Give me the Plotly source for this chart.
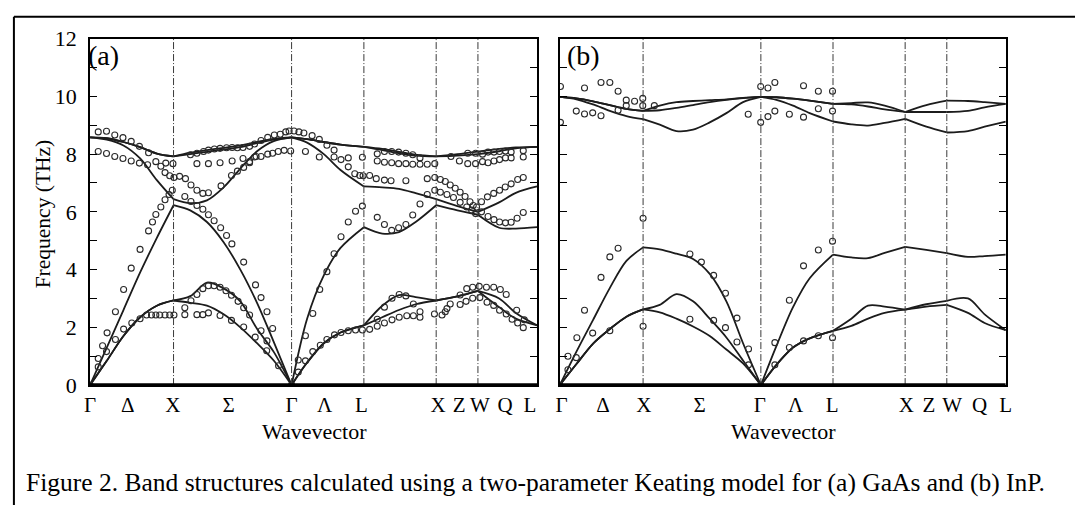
import plotly.graph_objects as go

# ---------------------------------------------------------------------------
# Path through the Brillouin zone, distances in units of 2*pi/a
# Gamma - X - (Sigma) - Gamma - L - X - W - L
# ---------------------------------------------------------------------------
K_NODES = [0.0, 1.0, 2.414, 3.280, 4.146, 4.646, 5.354]
K_END = 5.354

# sample positions used for the calculated dispersion curves
# (None separates the straight segments of the path)
K_GRID = [0, 0.2, 0.4, 0.6, 0.8, 1.0, None,
          1.0, 1.2, 1.4, 1.6, 1.8, 2.0, 2.2, 2.414, None,
          2.414, 2.6, 2.8, 3.0, 3.28, None,
          3.28, 3.5, 3.7, 3.9, 4.146, None,
          4.146, 4.4, 4.646, None,
          4.646, 4.9, 5.1, 5.354]

# tick labels along the path
TICK_TEXT = ["Γ", "Δ", "X", "Σ", "Γ", "Λ", "L", "X", "Z", "W", "Q", "L"]
TICK_K_A = [0.0, 0.45, 0.99, 1.66, 2.414, 2.81, 3.25, 4.17, 4.42, 4.67, 4.97, 5.27]
TICK_K_B = [0.02, 0.52, 1.01, 1.68, 2.40, 2.83, 3.27, 4.16, 4.43, 4.71, 5.04, 5.354]

Y_TICKS = list(range(0, 13))
Y_TICK_TEXT = [str(v) if v % 2 == 0 else "" for v in Y_TICKS]

# ---------------------------------------------------------------------------
# (a) GaAs -- Keating model branches (THz)
# ---------------------------------------------------------------------------
GAAS_TA1 = [0, 0.84, 1.7, 2.35, 2.75, 2.93, None,
            2.93, 2.85, 2.75, 2.45, 2.0, 1.45, 0.85, 0, None,
            0, 0.78, 1.45, 1.82, 2.07, None,
            2.07, 2.35, 2.6, 2.8, 2.93, None,
            2.93, 3.07, 3.26, None,
            3.26, 2.7, 2.3, 2.07]
GAAS_TA2 = [0, 0.84, 1.7, 2.35, 2.75, 2.93, None,
            2.93, 3.08, 3.55, 3.35, 2.9, 1.95, 1.15, 0, None,
            0, 0.78, 1.45, 1.82, 2.07, None,
            2.07, 2.75, 3.12, 3.05, 2.93, None,
            2.93, 3.07, 3.26, None,
            3.26, 3.0, 2.5, 2.07]
GAAS_LA = [0, 1.3, 2.6, 3.9, 5.1, 6.23, None,
           6.23, 6.05, 5.65, 4.95, 4.0, 2.85, 1.5, 0, None,
           0, 2.3, 3.8, 4.75, 5.47, None,
           5.47, 5.25, 5.3, 5.65, 6.23, None,
           6.23, 6.05, 5.9, None,
           5.9, 5.45, 5.42, 5.47]
GAAS_TO1 = [8.58, 8.55, 8.42, 8.24, 8.02, 7.92, None,
            7.92, 8.05, 8.14, 8.22, 8.3, 8.42, 8.53, 8.58, None,
            8.58, 8.52, 8.42, 8.33, 8.25, None,
            8.25, 8.18, 8.08, 7.98, 7.92, None,
            7.92, 8.0, 8.09, None,
            8.09, 8.18, 8.23, 8.25]
GAAS_TO2 = [8.58, 8.55, 8.42, 8.24, 8.02, 7.92, None,
            7.92, 8.0, 8.08, 8.16, 8.24, 8.38, 8.5, 8.58, None,
            8.58, 8.52, 8.42, 8.33, 8.25, None,
            8.25, 8.14, 8.03, 7.95, 7.92, None,
            7.92, 7.95, 8.0, None,
            8.0, 8.1, 8.2, 8.25]
GAAS_LO = [8.58, 8.5, 8.3, 7.85, 7.1, 6.44, None,
           6.44, 6.3, 6.4, 6.85, 7.5, 8.1, 8.45, 8.58, None,
           8.58, 8.4, 8.0, 7.45, 6.88, None,
           6.88, 6.85, 6.8, 6.65, 6.44, None,
           6.44, 6.2, 6.0, None,
           6.0, 6.33, 6.66, 6.88]

# (a) GaAs -- measured phonon frequencies
GAAS_EXP_K = (
    [0.098, 0.197, 0.296, 0.394, 0.493, 0.591, 0.701]
    + [0.098, 0.197, 0.296, 0.394, 0.493, 0.591, 0.689, 0.788, 0.848, 0.907, 0.993]
    + [0.898, 0.954, 1.005]
    + [0.098, 0.150, 0.204, 0.304, 0.402, 0.493, 0.599, 0.701, 0.748, 0.788, 0.848, 0.898, 0.946, 0.985]
    + [0.098, 0.197, 0.304, 0.402, 0.5, 0.599, 0.677, 0.736, 0.788, 0.835, 0.898, 0.954, 1.005]
    + [1.135, 1.28, 1.351, 1.418, 1.557, 1.694, 1.84, 1.978, 2.116, 2.258]
    + [1.135, 1.209, 1.28, 1.351, 1.418, 1.486, 1.557, 1.628, 1.694, 1.773, 1.84, 1.911, 2.048, 2.119]
    + [1.135, 1.209, 1.28, 1.351, 1.418, 1.486, 1.564, 1.635, 1.699, 1.84, 1.982, 2.048, 2.119, 2.187]
    + [1.202, 1.28, 1.359, 1.418, 1.489, 1.557, 1.635, 1.702, 1.765, 1.832, 1.911, 1.97, 2.048, 2.128,
       2.207, 2.278, 2.344, 2.384]
    + [1.28, 1.418, 1.557, 1.702, 1.832, 1.911, 1.989, 2.048, 2.128, 2.187, 2.254, 2.325, 2.403]
    + [1.072, 1.143, 1.209, 1.28, 1.351, 1.418, 1.569, 1.694, 1.765, 1.84, 1.911, 1.97]
    + [2.443, 2.502, 2.561, 2.66, 2.746, 2.837, 2.923]
    + [2.58, 2.746, 2.923, 3.006, 3.093, 3.262]
    + [3.093, 3.171, 3.23, 3.27]
    + [3.349, 3.428, 3.526, 3.605, 3.783, 4.039, 4.129]
    + [3.44, 3.526, 3.613, 3.696, 3.783, 3.865, 3.952]
    + [3.44, 3.526, 3.613, 3.696, 3.783, 3.865, 3.952, 4.039, 4.129]
    + [4.323, 4.524, 4.618, 4.701, 4.767, 4.838, 4.905, 4.976, 5.044, 5.189]
    + [4.424, 4.524, 4.618, 4.701, 4.767, 4.838, 4.905, 4.976, 5.044, 5.189]
    + [4.196, 4.255, 4.314, 4.374, 4.433, 4.492, 4.551, 4.59, 4.63]
    + [4.129, 4.196, 4.275, 4.353, 4.433, 4.512, 4.571, 4.618]
    + [4.689, 4.76, 4.835, 4.905, 4.973, 5.044, 5.122, 5.189]
    + [4.689, 4.767, 4.838, 4.905, 4.976, 5.044, 5.115, 5.189]
    + [2.494, 2.58, 2.668, 2.751, 2.837, 2.923, 3.006, 3.093, 3.18, 3.262]
    + [3.44, 3.526, 3.613, 3.696, 3.783, 3.865, 3.952, 4.039]
    + [2.494, 2.58, 2.668, 2.758, 2.837, 2.928, 3.006, 3.093, 3.18, 3.262]
    + [3.349, 3.44, 3.526, 3.617, 3.703, 3.794, 3.873, 3.952, 3.952, 4.125, 4.216, 4.255, 4.275, 4.314]
    + [3.44, 3.526, 3.617, 3.703, 3.783, 3.873]
    + [4.433, 4.512, 4.583, 4.661, 4.748, 4.835, 4.914, 4.985, 5.11, 5.201]
    + [4.433, 4.504, 4.583, 4.669, 4.755, 4.835, 4.905, 4.985, 5.055, 5.122, 5.189]
    + [0.0, 2.414]
)
GAAS_EXP_F = (
    [8.77, 8.79, 8.66, 8.57, 8.44, 8.27, 8.05]
    + [8.09, 8.02, 7.92, 7.85, 7.76, 7.69, 7.63, 7.74, 7.58, 7.69, 7.67]
    + [7.36, 7.25, 7.19]
    + [0.92, 1.36, 1.81, 2.54, 3.31, 4.05, 4.70, 5.34, 5.65, 5.91, 6.17, 6.42, 6.6, 6.75]
    + [0.63, 1.16, 1.58, 1.94, 2.15, 2.3, 2.43, 2.43, 2.43, 2.43, 2.43, 2.43, 2.43]
    + [2.44, 2.44, 2.44, 2.5, 2.41, 2.24, 2.01, 1.66, 1.19, 0.67]
    + [2.68, 2.92, 3.14, 3.34, 3.44, 3.44, 3.39, 3.27, 3.11, 2.9, 2.68, 2.43, 1.88, 1.53]
    + [6.53, 6.36, 6.22, 6.09, 5.9, 5.69, 5.45, 5.18, 4.89, 4.26, 3.47, 3.03, 2.54, 1.96]
    + [7.98, 8.03, 8.09, 8.14, 8.18, 8.2, 8.22, 8.23, 8.22, 8.23, 8.27, 8.35, 8.47, 8.58,
       8.66, 8.69, 8.77, 8.8]
    + [7.67, 7.67, 7.7, 7.76, 7.85, 7.74, 7.92, 7.92, 8.0, 8.03, 8.09, 8.13, 8.11]
    + [7.23, 7.15, 6.93, 6.75, 6.64, 6.66, 6.9, 7.26, 7.41, 7.54, 7.7, 7.9]
    + [8.8, 8.77, 8.73, 8.64, 8.51, 8.31, 8.14]
    + [8.09, 7.9, 7.9, 7.81, 7.87, 7.89]
    + [7.56, 7.32, 7.26, 7.25]
    + [7.26, 7.15, 7.1, 7.08, 7.08, 7.15, 7.19]
    + [8.01, 8.09, 8.09, 8.07, 8.03, 7.98, 7.87]
    + [7.76, 7.72, 7.7, 7.67, 7.67, 7.65, 7.65, 7.65, 7.67]
    + [7.92, 8.03, 8.03, 8.0, 8.07, 8.07, 8.09, 8.11, 8.07, 8.12]
    + [7.76, 7.67, 7.67, 7.74, 7.7, 7.76, 7.81, 7.87, 7.87, 7.9]
    + [7.12, 7.05, 6.93, 6.82, 6.68, 6.53, 6.35, 6.22, 6.17]
    + [6.75, 6.68, 6.6, 6.5, 6.33, 6.17, 6.06, 5.94]
    + [6.35, 6.52, 6.64, 6.75, 6.86, 6.97, 7.12, 7.19]
    + [6.0, 5.84, 5.73, 5.65, 5.62, 5.64, 5.78, 5.98]
    + [0.87, 1.71, 2.48, 3.31, 3.93, 4.55, 5.14, 5.65, 6.02, 6.2]
    + [5.81, 5.56, 5.36, 5.45, 5.56, 5.89, 6.27, 6.6]
    + [0.45, 0.84, 1.16, 1.38, 1.58, 1.74, 1.82, 1.88, 1.91, 1.91]
    + [1.93, 2.04, 2.15, 2.26, 2.35, 2.4, 2.4, 2.35, 2.54, 2.46, 2.43, 2.54, 2.65, 2.81]
    + [2.28, 2.7, 3.01, 3.14, 3.09, 2.81]
    + [3.12, 3.34, 3.39, 3.42, 3.39, 3.39, 3.31, 3.14, 2.59, 2.26]
    + [2.79, 2.9, 3.01, 3.03, 2.87, 2.76, 2.59, 2.46, 2.28, 2.15, 1.99]
    + [0.0, 0.0]
)

# ---------------------------------------------------------------------------
# (b) InP -- Keating model branches (THz)
# ---------------------------------------------------------------------------
INP_TA1 = [0, 0.73, 1.44, 1.94, 2.37, 2.62, None,
           2.62, 2.52, 2.3, 2.03, 1.7, 1.23, 0.75, 0, None,
           0, 0.7, 1.3, 1.62, 1.88, None,
           1.88, 2.05, 2.3, 2.5, 2.61, None,
           2.61, 2.72, 2.78, None,
           2.78, 2.5, 2.15, 1.9]
INP_TA2 = [0, 0.73, 1.44, 1.94, 2.37, 2.62, None,
           2.62, 2.78, 3.15, 2.9, 2.3, 1.65, 0.85, 0, None,
           0, 0.7, 1.3, 1.62, 1.88, None,
           1.88, 2.3, 2.75, 2.72, 2.61, None,
           2.61, 2.8, 2.92, None,
           2.92, 3.0, 2.45, 1.9]
INP_LA = [0, 1.16, 2.26, 3.36, 4.3, 4.77, None,
          4.77, 4.7, 4.55, 4.37, 3.85, 2.9, 1.45, 0, None,
          0, 1.35, 2.7, 3.7, 4.52, None,
          4.52, 4.42, 4.4, 4.58, 4.79, None,
          4.79, 4.68, 4.57, None,
          4.57, 4.44, 4.47, 4.52]
INP_TO1 = [9.98, 9.93, 9.83, 9.7, 9.57, 9.5, None,
           9.5, 9.68, 9.8, 9.84, 9.87, 9.9, 9.95, 9.98, None,
           9.98, 9.97, 9.92, 9.85, 9.74, None,
           9.74, 9.77, 9.79, 9.68, 9.46, None,
           9.46, 9.7, 9.85, None,
           9.85, 9.84, 9.8, 9.74]
INP_TO2 = [9.98, 9.93, 9.83, 9.7, 9.57, 9.5, None,
           9.5, 9.52, 9.6, 9.7, 9.8, 9.88, 9.94, 9.98, None,
           9.98, 9.97, 9.92, 9.85, 9.74, None,
           9.74, 9.72, 9.65, 9.55, 9.46, None,
           9.46, 9.46, 9.46, None,
           9.46, 9.5, 9.62, 9.74]
INP_LO = [9.98, 9.9, 9.72, 9.5, 9.32, 9.21, None,
          9.21, 9.02, 8.8, 8.85, 9.1, 9.42, 9.8, 9.98, None,
          9.98, 9.88, 9.68, 9.42, 9.13, None,
          9.13, 9.03, 8.99, 9.08, 9.22, None,
          9.22, 8.95, 8.75, None,
          8.75, 8.8, 8.95, 9.13]

# (b) InP -- measured phonon frequencies
INP_EXP_K = (
    [0.008, 0.008, 0.297, 0.495, 0.601, 0.7, 0.798, 0.798, 0.898, 0.996, 0.996, 1.135, 0.7,
     0.198, 0.297, 0.395, 0.495]
    + [2.412, 2.499, 2.582, 2.926, 3.104, 3.274, 2.262, 2.412, 2.499, 2.582, 2.756, 2.926, 3.104, 3.274]
    + [0.098, 0.098, 0.198, 0.205, 0.297, 0.395, 0.495, 0.601, 0.601, 0.7, 1.0, 1.0, 1.562, 1.7,
       1.847, 1.989, 2.127, 2.266, 1.562, 1.847, 1.989, 2.127, 2.266]
    + [2.582, 2.582, 2.756, 2.756, 2.926, 2.926, 3.104, 3.104, 3.274, 3.274]
    + [0.0, 2.414]
)
INP_EXP_F = (
    [10.34, 9.1, 10.29, 10.48, 10.48, 10.18, 9.87, 9.68, 9.83, 9.93, 9.68, 9.68, 9.52,
     9.49, 9.39, 9.43, 9.33]
    + [10.34, 10.29, 10.48, 10.37, 10.18, 10.18, 9.38, 9.1, 9.3, 9.49, 9.38, 9.28, 9.57, 9.49]
    + [1.0, 0.53, 0.95, 1.64, 2.59, 1.8, 3.73, 4.44, 1.88, 4.74, 5.78, 2.04, 4.54, 4.26,
       3.8, 3.18, 2.32, 1.25, 2.28, 2.24, 1.99, 1.49, 0.7]
    + [1.47, 0.7, 2.94, 1.3, 4.13, 1.53, 4.68, 1.71, 4.98, 1.64]
    + [0.0, 0.0]
)

# ---------------------------------------------------------------------------
SERIF = "Liberation Serif, Times New Roman, serif"
INK = "#1c1c1c"

fig = go.Figure()


def add_panel(branches, exp_k, exp_f, xa, ya):
    for f in branches:
        fig.add_trace(go.Scatter(
            x=K_GRID, y=f, mode="lines", xaxis=xa, yaxis=ya,
            line=dict(color=INK, width=1.8, shape="spline", smoothing=0.9),
            connectgaps=False, hoverinfo="skip", showlegend=False))
    fig.add_trace(go.Scatter(
        x=exp_k, y=exp_f, mode="markers", xaxis=xa, yaxis=ya,
        marker=dict(symbol="circle-open", size=6, color="#2a2a2a",
                    line=dict(width=1.1, color="#2a2a2a")),
        hoverinfo="skip", showlegend=False))


add_panel([GAAS_TA1, GAAS_TA2, GAAS_LA, GAAS_TO1, GAAS_TO2, GAAS_LO],
          GAAS_EXP_K, GAAS_EXP_F, "x", "y")
add_panel([INP_TA1, INP_TA2, INP_LA, INP_TO1, INP_TO2, INP_LO],
          INP_EXP_K, INP_EXP_F, "x2", "y2")

W, H = 1081, 518
Y_DOM = [(H - 392) / H, (H - 28) / H]
X_DOM_A = [85 / W, 537 / W]
X_DOM_B = [560 / W, 1011 / W]


def xaxis_cfg(domain, anchor, tickk):
    return dict(domain=domain, anchor=anchor, range=[0, K_END],
                showline=True, mirror=True, linecolor="black", linewidth=2,
                showgrid=False, zeroline=False, ticks="",
                tickvals=tickk, ticktext=TICK_TEXT,
                tickfont=dict(family=SERIF, size=21, color="black"))


def yaxis_cfg(domain, anchor, labels):
    return dict(domain=domain, anchor=anchor, range=[0, 12],
                showline=True, mirror="allticks", linecolor="black", linewidth=2,
                showgrid=False, zeroline=False,
                ticks="inside", ticklen=7, tickwidth=1.3, tickcolor="black",
                ticklabelstandoff=7,
                tickvals=Y_TICKS, ticktext=Y_TICK_TEXT, showticklabels=labels,
                tickfont=dict(family=SERIF, size=22, color="black"))


shapes = []
for xr, yr in (("x", "y"), ("x2", "y2")):
    # symmetry-point markers
    for k in K_NODES[1:-1]:
        shapes.append(dict(type="line", xref=xr, yref=yr, x0=k, x1=k, y0=0, y1=12.1,
                           line=dict(color="#3a3a3a", width=1, dash="7px,2px,1px,2px")))
    # heavy baseline
    shapes.append(dict(type="line", xref=xr, yref=yr, x0=0, x1=K_END, y0=0, y1=0,
                       line=dict(color="black", width=3.5)))

# outer figure frame (top and left edges)
shapes.append(dict(type="line", xref="paper", yref="paper", x0=8 / W, x1=1, y0=1 - 5 / H, y1=1 - 5 / H,
                   line=dict(color="black", width=2)))
shapes.append(dict(type="line", xref="paper", yref="paper", x0=8 / W, x1=8 / W, y0=0, y1=1 - 5 / H,
                   line=dict(color="black", width=2)))

annotations = [
    dict(text="(a)", x=81 / W, y=1 - 46 / H, xref="paper", yref="paper", xanchor="left",
         yanchor="middle", showarrow=False, font=dict(family=SERIF, size=28, color="black")),
    dict(text="(b)", x=565 / W, y=1 - 46 / H, xref="paper", yref="paper", xanchor="left",
         yanchor="middle", showarrow=False, font=dict(family=SERIF, size=28, color="black")),
    dict(text="Frequency (THz)", x=37 / W, y=1 - 212 / H, xref="paper", yref="paper",
         xanchor="center", yanchor="middle", textangle=-90, showarrow=False,
         font=dict(family=SERIF, size=21.5, color="black")),
    dict(text="Wavevector", x=312 / W, y=1 - 441 / H, xref="paper", yref="paper",
         xanchor="center", yanchor="middle", showarrow=False,
         font=dict(family=SERIF, size=22, color="black")),
    dict(text="Wavevector", x=786 / W, y=1 - 441 / H, xref="paper", yref="paper",
         xanchor="center", yanchor="middle", showarrow=False,
         font=dict(family=SERIF, size=22, color="black")),
    dict(text="Figure 2. Band structures calculated using a two-parameter Keating model "
              "for (a) GaAs and (b) InP.",
         x=18 / W, y=1 - 494 / H, xref="paper", yref="paper", xanchor="left",
         yanchor="middle", showarrow=False, font=dict(family=SERIF, size=25.5, color="black")),
]

fig.update_layout(
    width=W, height=H, margin=dict(l=0, r=0, t=0, b=0),
    paper_bgcolor="white", plot_bgcolor="white",
    font=dict(family=SERIF, color="black"),
    xaxis=xaxis_cfg(X_DOM_A, "y", TICK_K_A),
    yaxis=yaxis_cfg(Y_DOM, "x", True),
    xaxis2=xaxis_cfg(X_DOM_B, "y2", TICK_K_B),
    yaxis2=yaxis_cfg(Y_DOM, "x2", False),
    shapes=shapes, annotations=annotations, showlegend=False,
)

fig.write_html("out.html")
